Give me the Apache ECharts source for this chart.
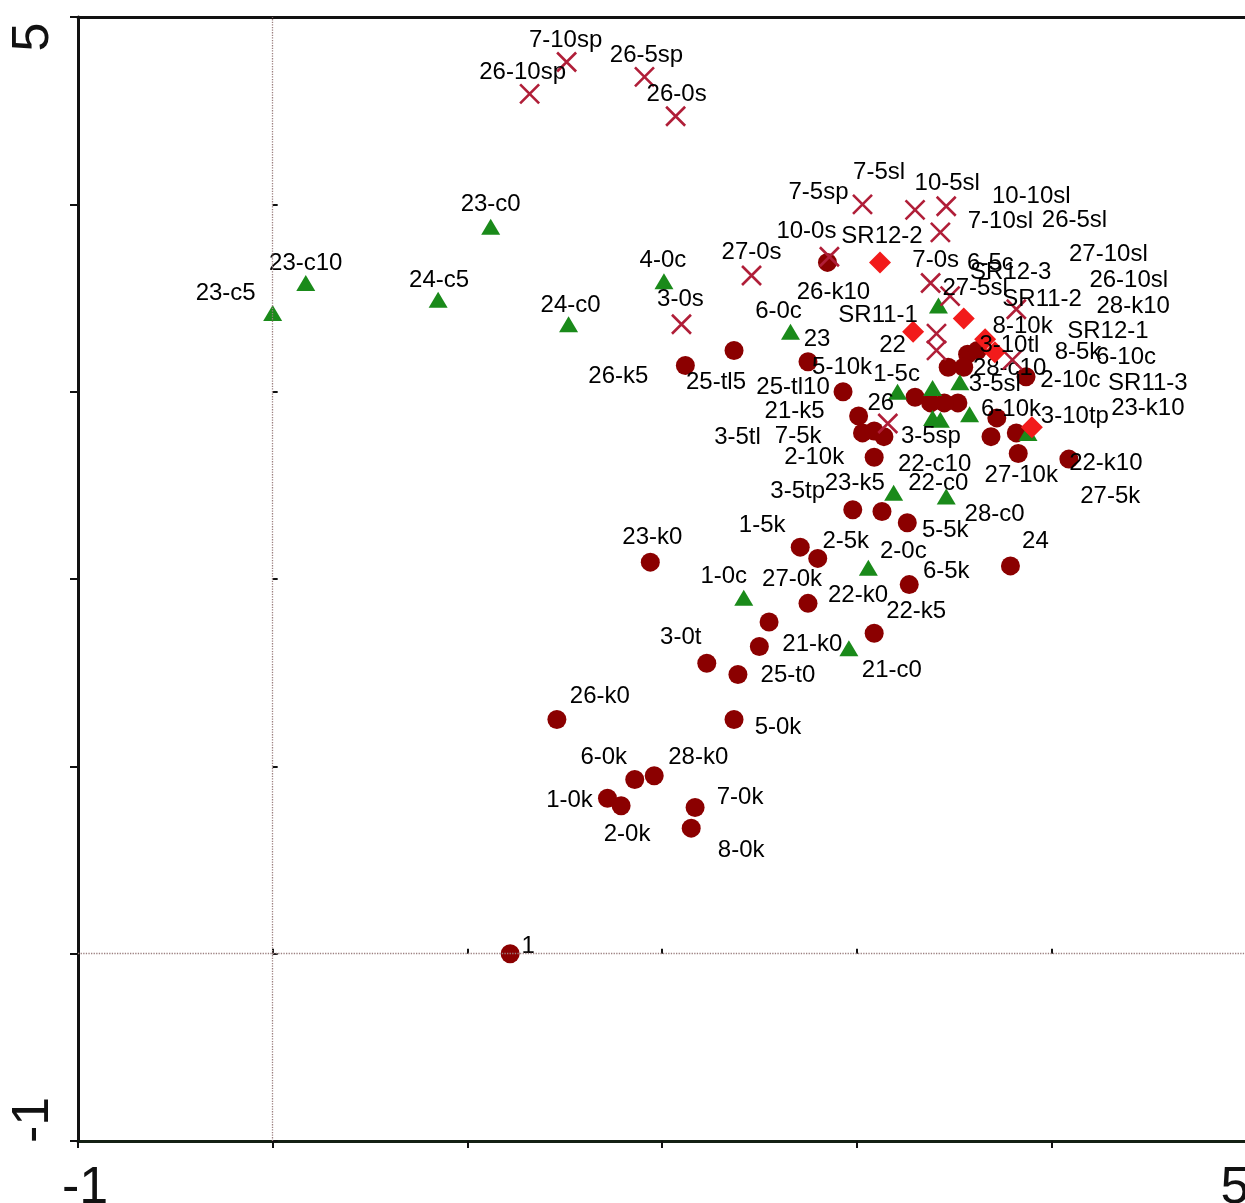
<!DOCTYPE html>
<html>
<head>
<meta charset="utf-8">
<script src="https://cdn.jsdelivr.net/npm/echarts@6/dist/echarts.min.js"></script>
<style>html,body{margin:0;padding:0;background:#fff;}#c{width:1245px;height:1203px;}</style>
</head>
<body>
<div id="c"></div>
<script>
// ---- axis ticks ----
const axisMin = -1, axisMax = 5, axisStep = 1;
const shownTickLabels = [-1, 5];

// ---- series data: [x, y, label] ----
const circlePoints = [
  [1.22, 0.00, '1'], [1.46, 1.25, '26-k0'], [1.86, 0.93, '6-0k'], [1.96, 0.95, '28-k0'],
  [1.72, 0.83, '1-0k'], [1.79, 0.79, '2-0k'], [2.17, 0.78, '7-0k'], [2.15, 0.67, '8-0k'],
  [2.37, 1.25, '5-0k'], [2.23, 1.55, '3-0t'], [2.39, 1.49, '25-t0'], [2.50, 1.64, '21-k0'],
  [2.55, 1.77, '27-0k'], [2.75, 1.87, '22-k0'], [3.09, 1.71, '22-k5'], [3.27, 1.97, '6-5k'],
  [1.94, 2.09, '23-k0'], [2.71, 2.17, '1-5k'], [2.80, 2.11, '2-5k'], [2.98, 2.37, '23-k5'],
  [3.13, 2.36, ''], [3.26, 2.30, '5-5k'], [3.79, 2.07, '24'], [4.09, 2.64, '22-k10'],
  [3.83, 2.67, '27-10k'], [3.82, 2.78, '27-5k'], [3.69, 2.76, '6-10k'], [3.72, 2.86, '23-k10'],
  [3.87, 3.08, '8-5k'], [3.52, 2.94, '3-10tp'], [3.47, 3.13, '28-k10'], [3.57, 3.20, '8-10k'],
  [3.62, 3.22, '27-10sl'], [3.55, 3.13, '26-10sl'], [3.30, 2.97, '5-10k'], [3.38, 2.94, ''],
  [3.45, 2.94, ''], [3.01, 2.87, '21-k5'], [3.03, 2.78, '3-5tl'], [3.09, 2.79, '7-5k'],
  [3.14, 2.76, '3-5sp'], [3.09, 2.65, '2-10k'], [2.93, 3.00, '25-tl10'], [2.75, 3.16, '23'],
  [2.37, 3.22, '25-tl5'], [2.12, 3.14, '26-k5'], [2.85, 3.69, '26-k10']
];
const trianglePoints = [
  [0.00, 3.42, '23-c5'], [0.17, 3.58, '23-c10'], [0.85, 3.49, '24-c5'], [1.12, 3.88, '23-c0'],
  [1.52, 3.36, '24-c0'], [2.01, 3.59, '4-0c'], [2.66, 3.32, '6-0c'], [3.42, 3.46, '6-5c'],
  [3.21, 3.00, '1-5c'], [3.39, 3.02, '28-c10'], [3.53, 3.05, '3-5sl'], [3.39, 2.86, '22-c10'],
  [3.43, 2.85, '2-10c'], [3.58, 2.88, '28-c0'], [3.88, 2.78, '6-10c'], [3.19, 2.46, '3-5tp'],
  [3.46, 2.44, '22-c0'], [3.06, 2.06, '2-0c'], [2.42, 1.90, '1-0c'], [2.96, 1.63, '21-c0']
];
const crossPoints = [
  [1.32, 4.59, '26-10sp'], [1.51, 4.76, '7-10sp'], [1.91, 4.68, '26-5sp'], [2.07, 4.47, '26-0s'],
  [3.03, 4.00, '7-5sp'], [3.30, 3.97, '7-5sl'], [3.46, 3.99, '10-5sl'], [3.43, 3.85, '7-10sl'],
  [2.86, 3.72, '10-0s'], [2.46, 3.62, '27-0s'], [2.10, 3.36, '3-0s'], [3.38, 3.58, '7-0s'],
  [3.48, 3.51, '27-5sl'], [3.82, 3.44, '10-10sl'], [3.41, 3.31, '22'], [3.41, 3.22, '26-5sl'],
  [3.80, 3.17, '3-10tl'], [3.16, 2.83, '26']
];
const diamondPoints = [
  [3.12, 3.69, 'SR12-2'], [3.29, 3.32, 'SR11-1'], [3.55, 3.39, 'SR12-3'],
  [3.66, 3.28, 'SR11-2'], [3.71, 3.21, 'SR12-1'], [3.90, 2.81, 'SR11-3']
];

// ---- label placement (pixel offsets from the mark) ----
const labelOffsets = {
  '1':[18,-7],'26-k0':[43,-23],'6-0k':[-31,-22],'28-k0':[44,-18],'1-0k':[-38,2],'2-0k':[6,29],
  '7-0k':[45,-10],'8-0k':[50,22],'5-0k':[44,8],'3-0t':[-26,-26],'25-t0':[50,1],'21-k0':[53,-2],
  '27-0k':[23,-43],'22-k0':[50,-8],'22-k5':[42,-22],'6-5k':[37,-13],'23-k0':[2,-25],'1-5k':[-38,-22],
  '2-5k':[28,-17],'23-k5':[2,-26],'5-5k':[38,8],'24':[25,-25],'22-k10':[37,4],'27-10k':[3,22],
  '27-5k':[94,63],'6-10k':[20,-27],'23-k10':[151,-10],'8-5k':[52,-24],'3-10tp':[117,13],
  '28-k10':[185,-61],'8-10k':[55,-28],'27-10sl':[131,-96],'26-10sl':[165,-87],'5-10k':[-73,-30],
  '21-k5':[-64,-5],'3-5tl':[-125,4],'7-5k':[-76,5],'3-5sp':[47,0],'2-10k':[-60,0],'25-tl10':[-50,-4],
  '23':[9,-22],'25-tl5':[-18,32],'26-k5':[-67,11],'26-k10':[6,30],
  '23-c5':[-47,-20],'23-c10':[0,-20],'24-c5':[1,-19],'23-c0':[0,-22],'24-c0':[2,-19],'4-0c':[-1,-21],
  '6-0c':[-12,-20],'6-5c':[52,-42],'1-5c':[-1,-17],'28-c10':[77,-20],'3-5sl':[35,2],'22-c10':[2,46],
  '2-10c':[130,-39],'28-c0':[25,100],'6-10c':[98,-76],'3-5tp':[-96,-1],'22-c0':[-8,-13],'2-0c':[35,-16],
  '1-0c':[-20,-21],'21-c0':[43,22],
  '26-10sp':[-7,-21],'7-10sp':[-1,-22],'26-5sp':[2,-22],'26-0s':[1,-22],'7-5sp':[-44,-12],
  '7-5sl':[-36,-38],'10-5sl':[1,-23],'7-10sl':[60,-11],'10-0s':[-23,-25],'27-0s':[0,-23],'3-0s':[-1,-25],
  '7-0s':[5,-23],'27-5sl':[25,-8],'10-10sl':[15,-113],'22':[-44,12],'26-5sl':[138,-130],'3-10tl':[-3,-14],
  '26':[-7,-20],
  'SR12-2':[2,-26],'SR11-1':[-35,-16],'SR12-3':[47,-46],'SR11-2':[57,-40],'SR12-1':[113,-21],'SR11-3':[116,-44]
};

function toItems(rows) {
  return rows.map(r => ({ value: [r[0], r[1]], name: r[2], label: { offset: labelOffsets[r[2]] || [0, 0] } }));
}

const FONT = 'Liberation Sans, Arial, sans-serif';
const baseLabel = {
  show: true, position: 'inside', formatter: '{b}', color: '#000',
  fontSize: 24, fontFamily: FONT, align: 'center', verticalAlign: 'middle'
};

const chart = echarts.init(document.getElementById('c'));
const bigTick = { fontSize: 52, fontFamily: FONT, color: '#111' };

chart.setOption({
  animation: false,
  backgroundColor: '#fff',
  grid: { left: 78, right: -1, top: 17, bottom: 62, containLabel: false, outerBoundsMode: 'none' },
  xAxis: [
    { type: 'value', min: axisMin, max: axisMax, interval: axisStep, position: 'bottom',
      splitLine: { show: false },
      axisLine: { show: true, onZero: false, lineStyle: { color: '#142014', width: 3 } },
      axisTick: { show: true, inside: false, length: 7, lineStyle: { color: '#111', width: 2 } },
      axisLabel: { show: true, margin: 22,
        formatter: v => v === shownTickLabels[0] ? '{l|' + v + '}' : (v === shownTickLabels[1] ? '{r|' + v + '}' : ''),
        rich: { l: Object.assign({ padding: [0, 0, 0, 14] }, bigTick), r: Object.assign({ padding: [0, 22, 0, 0] }, bigTick) } } },
    { type: 'value', min: axisMin, max: axisMax, interval: axisStep, position: 'bottom',
      splitLine: { show: false }, axisLine: { show: false },
      axisTick: { show: true, inside: true, length: 5, lineStyle: { color: '#111', width: 2 } },
      axisLabel: { show: false } },
    { type: 'value', min: axisMin, max: axisMax, interval: axisStep, position: 'top',
      splitLine: { show: false },
      axisLine: { show: true, onZero: false, lineStyle: { color: '#111', width: 3 } },
      axisTick: { show: false }, axisLabel: { show: false } }
  ],
  yAxis: [
    { type: 'value', min: axisMin, max: axisMax, interval: axisStep, position: 'left',
      splitLine: { show: false },
      axisLine: { show: true, onZero: false, lineStyle: { color: '#111', width: 3 } },
      axisTick: { show: true, inside: false, length: 8, lineStyle: { color: '#111', width: 2 } },
      axisLabel: { show: true, rotate: 90, margin: 18,
        formatter: v => v === shownTickLabels[0] ? '{b|' + v + '}' : (v === shownTickLabels[1] ? '{t|' + v + '}' : ''),
        rich: { b: Object.assign({ padding: [0, 0, 0, 42] }, bigTick), t: Object.assign({ padding: [0, 40, 0, 0] }, bigTick) } } },
    { type: 'value', min: axisMin, max: axisMax, interval: axisStep, position: 'left',
      splitLine: { show: false }, axisLine: { show: false },
      axisTick: { show: true, inside: true, length: 5, lineStyle: { color: '#111', width: 2 } },
      axisLabel: { show: false } }
  ],
  series: [
    { type: 'scatter', name: 'k', data: toItems(circlePoints), symbol: 'circle', symbolSize: 19,
      itemStyle: { color: '#8b0000', opacity: 1 }, label: baseLabel, z: 3,
      markLine: { silent: true, symbol: 'none', label: { show: false },
        lineStyle: { color: '#9c8080', width: 1.3, type: 'dotted' },
        data: [{ xAxis: 0 }, { yAxis: 0 }] } },
    { type: 'scatter', name: 'c', data: toItems(trianglePoints), symbol: 'triangle', symbolSize: [19, 16],
      itemStyle: { color: '#1a8a1a', opacity: 1 }, label: baseLabel, z: 3 },
    { type: 'scatter', name: 's', data: toItems(crossPoints), symbol: 'path://M0,0L10,10M10,0L0,10', symbolSize: 19,
      itemStyle: { color: 'rgba(0,0,0,0)', borderColor: '#b01e38', borderWidth: 2.6, opacity: 1 }, label: baseLabel, z: 4 },
    { type: 'scatter', name: 'SR', data: toItems(diamondPoints), symbol: 'diamond', symbolSize: 22,
      itemStyle: { color: '#f21b1b', opacity: 1 }, label: baseLabel, z: 4 }
  ]
});
</script>
</body>
</html>
